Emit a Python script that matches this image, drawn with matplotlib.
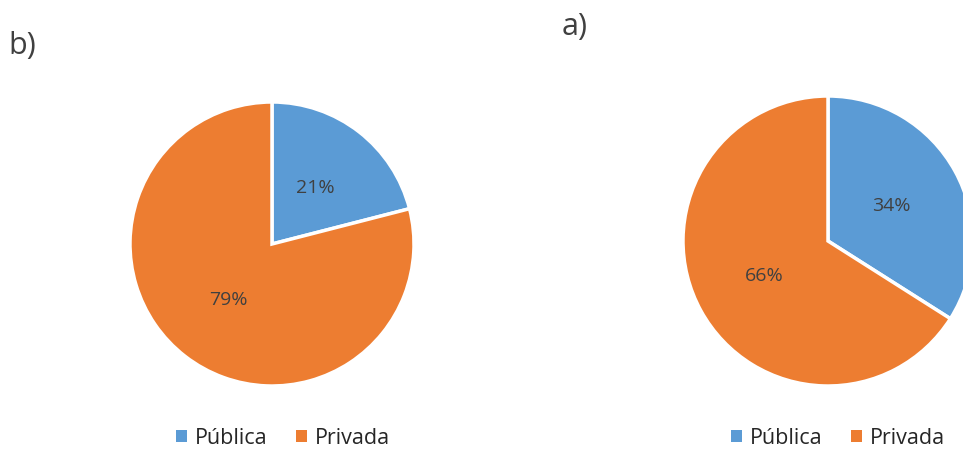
import matplotlib.pyplot as plt
from matplotlib.patches import Patch

labels = ['Pública', 'Privada']
shares_b = [21, 79]
shares_a = [34, 66]
colors = ['#5B9BD5', '#ED7D31']

plt.rcParams['font.family'] = ['Open Sans', 'DejaVu Sans']

W, H = 963, 450
fig = plt.figure(figsize=(W / 100, H / 100), dpi=100)


def pie_axes(cx, cy, r):
    # place a square axes around a pie centre given in pixels (top-left origin)
    return fig.add_axes([(cx - r) / W, (H - cy - r) / H, 2 * r / W, 2 * r / H])


def draw_pie(ax, values):
    ax.pie(values, colors=colors, startangle=90, counterclock=False,
           autopct='%1.0f%%', pctdistance=0.5, radius=1,
           wedgeprops=dict(edgecolor='white', linewidth=2.5),
           textprops=dict(color='#404040', fontsize=14))
    ax.set_xlim(-1.0, 1.0)
    ax.set_ylim(-1.0, 1.0)
    ax.set_aspect('equal')
    ax.axis('off')


ax_b = pie_axes(272, 244, 142)
draw_pie(ax_b, shares_b)
ax_a = pie_axes(828, 241, 145)
draw_pie(ax_a, shares_a)

fig.text(8 / W, 1 - 46 / H, 'b)', fontsize=22, color='#404040', va='center')
fig.text(562 / W, 1 - 27 / H, 'a)', fontsize=22, color='#404040', va='center')

handles = [Patch(facecolor=c, edgecolor='none') for c in colors]
for x in (283, 838):
    fig.legend(handles, labels, ncol=2, frameon=False, loc='center',
               bbox_to_anchor=(x / W, 1 - 438 / H), fontsize=15.5,
               handlelength=0.5, handleheight=0.5, handletextpad=0.4,
               columnspacing=1.3, labelcolor='#262626', borderpad=0.1)

fig.savefig('out.png', dpi=100)
